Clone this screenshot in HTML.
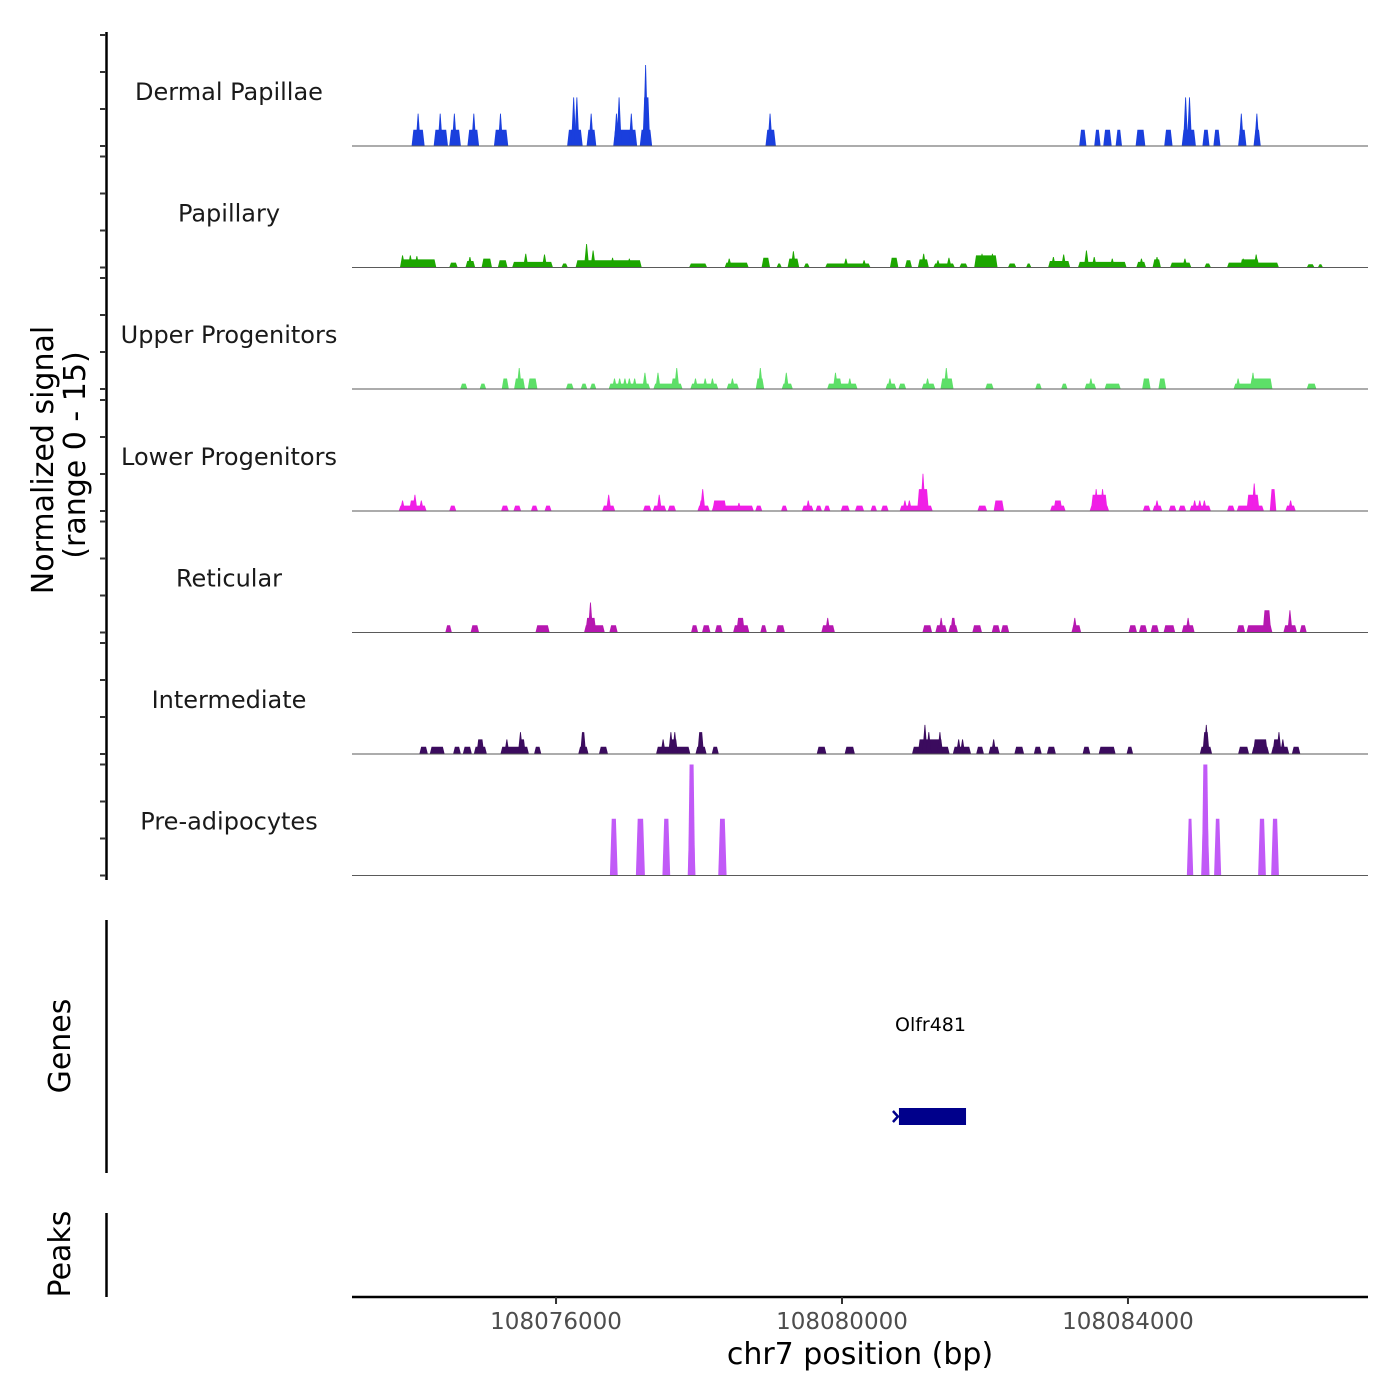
<!DOCTYPE html>
<html><head><meta charset="utf-8">
<style>
html,body{margin:0;padding:0;background:#fff;}
svg{display:block;font-family:"DejaVu Sans","Liberation Sans",sans-serif;}
</style></head>
<body>
<svg id="chart" width="1400" height="1400" viewBox="0 0 1400 1400" xmlns="http://www.w3.org/2000/svg">
  <g id="tracks"></g>
  <g id="labels"></g>
  <g id="yaxis"></g>
  <text transform="translate(53,460) rotate(-90)" text-anchor="middle" font-size="30" fill="#000">Normalized signal</text>
  <text transform="translate(85,455) rotate(-90)" text-anchor="middle" font-size="30" fill="#000">(range 0 - 15)</text>
  <line x1="106.5" y1="920" x2="106.5" y2="1173" stroke="#000" stroke-width="2.5"/>
  <text transform="translate(70,1046) rotate(-90)" text-anchor="middle" font-size="30" fill="#000">Genes</text>
  <g id="genes"></g>
  <line x1="106.5" y1="1213" x2="106.5" y2="1297" stroke="#000" stroke-width="2.5"/>
  <text transform="translate(70,1254) rotate(-90)" text-anchor="middle" font-size="30" fill="#000">Peaks</text>
  <g id="xaxis"></g>
  <text x="860" y="1364" text-anchor="middle" font-size="30" fill="#000">chr7 position (bp)</text>
</svg>
<script>
// positions are offsets from region start (in position units, 7.2 units per px)
const trackNames = ["Dermal Papillae","Papillary","Upper Progenitors","Lower Progenitors","Reticular","Intermediate","Pre-adipocytes"];
const trackColors = ["#1a3fdd","#1ca600","#5ddf68","#f01fe6","#b617b0","#3b0b5e","#c15af7"];
const xTickValues = [1469, 3528, 5587];
const xTickLabels = ["108076000","108080000","108084000"];
const yTickValues = [0, 5, 10, 15];
const geneName = ["Olfr481"];
const geneStart = [3938];
const geneEnd = [4421];

// blocks: [start, end, value]; spikes: [center, value]
const dermalBlocks = [[429,523,2],[588,691,2],[700,784,2],[831,915,2],[1022,1125,2],[1549,1661,2],[1689,1759,2],[1881,2053,2],[2072,2161,2],[2091,2147,6],[2977,3052,2],[5236,5288,2],[5344,5390,2],[5409,5470,2],[5498,5544,2],[5642,5712,2],[5848,5908,2],[5974,6076,2],[6123,6174,2],[6202,6253,2],[6380,6440,2],[6491,6543,2]];
const dermalSpikes = [[476,4],[635,4],[737,4],[877,4],[1069,4],[1596,6],[1619,6],[1722,4],[1904,4],[1923,6],[2011,4],[2114,10],[3010,4],[6002,6],[6030,6],[6403,4],[6515,4]];

const papillaryBlocks = [[350,607,1],[700,761,0.6],[817,887,0.8],[933,1008,1.1],[1050,1120,0.9],[1153,1447,0.7],[1508,1554,0.5],[1610,2086,0.9],[2427,2557,0.5],[2683,2856,0.6],[2949,3010,1.2],[3057,3094,0.5],[3136,3220,1.1],[3253,3295,0.5],[3407,3733,0.5],[3873,3934,1.2],[3981,4032,0.9],[4074,4153,1],[4186,4340,0.5],[4373,4433,0.5],[4480,4648,1.5],[4723,4783,0.5],[4853,4891,0.5],[5012,5171,0.8],[5227,5577,0.7],[5647,5717,0.7],[5764,5824,1],[5890,6043,0.6],[6137,6184,0.5],[6300,6674,0.6],[6394,6534,1],[6874,6930,0.4],[6954,6991,0.4]];
const papillarySpikes = [[364,1.5],[420,1.5],[467,1.4],[849,1.3],[1251,1.7],[1386,1.6],[1689,2.9],[1736,2.1],[1876,1.2],[1997,1.1],[2716,1.1],[3178,2],[3556,1.1],[3687,0.9],[4116,1.7],[4219,0.9],[4298,1.2],[4536,1.7],[4611,1.7],[5050,1.3],[5124,1.6],[5288,2.1],[5344,1.3],[5474,1.1],[5684,1.1],[5796,1.3],[5997,1.1],[6417,1.1],[6510,1.6]];

const upperBlocks = [[779,831,0.66],[919,966,0.66],[1078,1129,1.3],[1167,1246,1.3],[1265,1335,1.3],[1540,1596,0.66],[1647,1694,0.66],[1713,1759,0.66],[1848,2147,0.66],[2170,2380,0.66],[2296,2352,1.3],[2436,2637,0.66],[2697,2786,0.66],[2907,2968,1.3],[3094,3174,0.66],[3421,3640,0.66],[3476,3528,1.3],[3841,3920,0.66],[3934,3990,0.66],[4102,4200,0.66],[4237,4331,1.3],[4559,4620,0.66],[4919,4966,0.66],[5106,5152,0.66],[5274,5358,0.66],[5418,5535,0.66],[5689,5750,1.3],[5806,5862,1.3],[6347,6627,0.66],[6464,6627,1.3],[6874,6944,0.66]];
const upperSpikes = [[1204,2.6],[1890,1.3],[1927,1.3],[1965,1.3],[1997,1.3],[2035,1.3],[2109,2],[2203,2],[2338,2.6],[2473,1.3],[2543,1.3],[2595,1.3],[2739,1.3],[2940,2.6],[3127,2],[3481,2],[3584,1.3],[3873,1.3],[4144,1.3],[4279,2.6],[5320,1.3],[6380,1.3],[6487,2]];

const lowerBlocks = [[336,537,0.66],[411,467,1.3],[700,751,0.66],[1073,1129,0.66],[1162,1218,0.66],[1288,1339,0.66],[1386,1437,0.66],[1801,1895,0.66],[2095,2156,0.66],[2165,2263,0.66],[2273,2333,0.66],[2487,2576,0.66],[2497,2545,1.3],[2590,2893,0.66],[2595,2697,1.3],[2903,2954,0.66],[3089,3136,0.66],[3239,3323,0.66],[3337,3384,0.66],[3397,3444,0.66],[3519,3584,0.66],[3621,3687,0.66],[3733,3780,0.66],[3808,3864,0.66],[3943,4181,0.66],[4069,4153,2.7],[4503,4573,0.66],[4620,4695,1.3],[5026,5138,0.66],[5050,5115,1.3],[5311,5451,0.66],[5320,5440,2],[5694,5750,0.66],[5764,5834,0.66],[5880,5936,0.66],[5950,6006,0.66],[6030,6184,0.66],[6300,6356,0.66],[6370,6566,0.66],[6440,6534,2],[6608,6655,2.7],[6720,6795,0.66]];
const lowerSpikes = [[364,1.3],[453,2],[499,1.3],[1848,2],[2212,2],[2525,2.7],[2786,1],[3285,1.3],[3981,1.3],[4013,1.3],[4111,4.6],[5358,2.7],[5404,2.7],[5796,1.3],[6067,1.3],[6104,1.3],[6137,1.3],[6496,3.4],[6758,1.3]];

const reticularBlocks = [[672,719,0.9],[854,915,0.9],[1321,1423,0.9],[1671,1820,0.9],[1680,1759,1.8],[1853,1913,0.9],[2441,2492,0.9],[2520,2581,0.9],[2613,2669,0.9],[2744,2861,0.9],[2767,2828,1.8],[2940,2987,0.9],[3052,3117,0.9],[3379,3477,0.9],[4107,4177,0.9],[4200,4284,0.9],[4294,4363,0.9],[4308,4350,1.8],[4466,4536,0.9],[4606,4667,0.9],[4672,4732,0.9],[5180,5250,0.9],[5591,5652,0.9],[5666,5726,0.9],[5750,5810,0.9],[5843,5927,0.9],[5974,6067,0.9],[6370,6431,0.9],[6440,6627,0.9],[6557,6618,2.75],[6706,6804,0.9],[6823,6874,0.9]];
const reticularSpikes = [[1717,3.7],[3425,1.8],[4242,1.8],[5204,1.8],[6020,1.8],[6753,2.75]];

const intermediateBlocks = [[485,546,0.9],[560,667,0.9],[728,784,0.9],[798,863,0.9],[877,971,0.9],[896,952,1.8],[1069,1274,0.9],[1204,1251,1.8],[1311,1363,0.9],[1629,1703,0.9],[1643,1685,2.7],[1778,1843,0.9],[2189,2436,0.9],[2277,2347,1.8],[2473,2553,0.9],[2487,2534,2.7],[2590,2641,0.9],[3346,3416,0.9],[3547,3621,0.9],[4032,4303,0.9],[4074,4256,1.8],[4326,4457,0.9],[4494,4550,0.9],[4583,4662,0.9],[4769,4839,0.9],[4909,4966,0.9],[5003,5068,0.9],[5260,5316,0.9],[5376,5498,0.9],[5577,5624,0.9],[6104,6193,0.9],[6123,6174,2.7],[6380,6459,0.9],[6478,6604,0.9],[6487,6594,1.8],[6618,6748,0.9],[6627,6683,1.8],[6767,6828,0.9]];
const intermediateSpikes = [[1115,1.8],[1213,2.7],[2240,1.8],[2296,2.7],[2324,2.7],[4125,3.6],[4153,2.7],[4233,2.7],[4368,1.8],[4396,1.8],[4620,1.8],[6151,3.6],[6674,2.7],[6702,1.8]];

const preadipBlocks = [[1857,1913,7],[2044,2109,7],[2235,2291,7],[2417,2473,7],[2637,2697,7],[6011,6057,7],[6114,6174,7],[6207,6258,7],[6524,6580,7],[6618,6674,7]];
const preadipSpikes = [[2445,13.7],[6144,13.7]];

const allBlocks = [dermalBlocks,papillaryBlocks,upperBlocks,lowerBlocks,reticularBlocks,intermediateBlocks,preadipBlocks];
const allSpikes = [dermalSpikes,papillarySpikes,upperSpikes,lowerSpikes,reticularSpikes,intermediateSpikes,preadipSpikes];

const NS = "http://www.w3.org/2000/svg";
const X0 = 352, X1 = 1368;
function xScale(p){ return X0 + p / 7.2; }
const baselines = [146, 267.5, 389, 511, 632.5, 754, 875.5];
const PX_PER_UNIT = 8.1;
function yScale(track, v){ return baselines[track] - v * PX_PER_UNIT; }
function mk(tag, attrs, parent){
  const e = document.createElementNS(NS, tag);
  for (const k in attrs) e.setAttribute(k, attrs[k]);
  parent.appendChild(e); return e;
}
const gT = document.getElementById("tracks");
const gL = document.getElementById("labels");
for (let t = 0; t < trackNames.length; t++){
  const g = mk("g", {}, gT);
  
  
  const col = trackColors[t];
  allBlocks[t].forEach(b => {
    const xs = xScale(b[0]), xe = xScale(b[1]), yb = baselines[t], yt = yScale(t, b[2]);
    const s = Math.min(1.8, (xe - xs) / 3);
    const p = mk("polygon", {points: `${xs},${yb} ${xs+s},${yt} ${xe-s},${yt} ${xe},${yb}`, fill: col}, g);
    
    
  });
  allSpikes[t].forEach(sp => {
    const xc = xScale(sp[0]), yb = baselines[t], yt = yScale(t, sp[1]);
    const hw = t === 6 ? 3.5 : 2.6;
    const top = t === 6 ? 2 : 0.4;
    const p = mk("polygon", {points: `${xc-hw},${yb} ${xc-top},${yt} ${xc+top},${yt} ${xc+hw},${yb}`, fill: col}, g);
    
    
  });
  const bl = mk("line", {x1: X0, x2: X1, y1: baselines[t], y2: baselines[t], stroke: "#5a5a5a", "stroke-width": 1}, g);
  
  
  const lab = mk("text", {x: 229, y: baselines[t] - 46, "text-anchor": "middle", "font-size": 24, fill: "#1a1a1a"}, gL);
  lab.textContent = trackNames[t];
  
  
}
// y axis
const gY = document.getElementById("yaxis");
const ya = mk("line", {x1: 106.5, x2: 106.5, y1: 32, y2: 880, stroke: "#000", "stroke-width": 2.5}, gY);


for (let t = 0; t < baselines.length; t++){
  yTickValues.forEach(v => {
    const y = baselines[t] - v * 7.4;
    const tk = mk("line", {x1: 100, x2: 106, y1: y, y2: y, stroke: "#333", "stroke-width": 2}, gY);
    
    
  });
}
// genes
const gG = document.getElementById("genes");
for (let i = 0; i < geneName.length; i++){
  const xs = xScale(geneStart[i]), xe = xScale(geneEnd[i]);
  const gt = mk("text", {x: (xs+xe)/2 - 2, y: 1031, "text-anchor": "middle", "font-size": 19, fill: "#000"}, gG);
  gt.textContent = geneName[i];
  
  
  const r = mk("rect", {x: xs, y: 1108, width: xe - xs, height: 17, fill: "#00008b"}, gG);
  
  
  const ar = mk("path", {d: `M${xs-6},${1111} L${xs-1},${1116.5} L${xs-6},${1122}`, stroke: "#00008b", "stroke-width": 2.5, fill: "none"}, gG);
  
  
}
// x axis
const gX = document.getElementById("xaxis");
const xa = mk("line", {x1: X0, x2: X1, y1: 1297, y2: 1297, stroke: "#000", "stroke-width": 2.5}, gX);


xTickValues.forEach((v, i) => {
  const x = xScale(v);
  const tk = mk("line", {x1: x, x2: x, y1: 1297, y2: 1304, stroke: "#333", "stroke-width": 2}, gX);
  
  
  const tl = mk("text", {x: x, y: 1329, "text-anchor": "middle", "font-size": 23, fill: "#4d4d4d"}, gX);
  tl.textContent = xTickLabels[i];
  
  
});
</script>
</body></html>
